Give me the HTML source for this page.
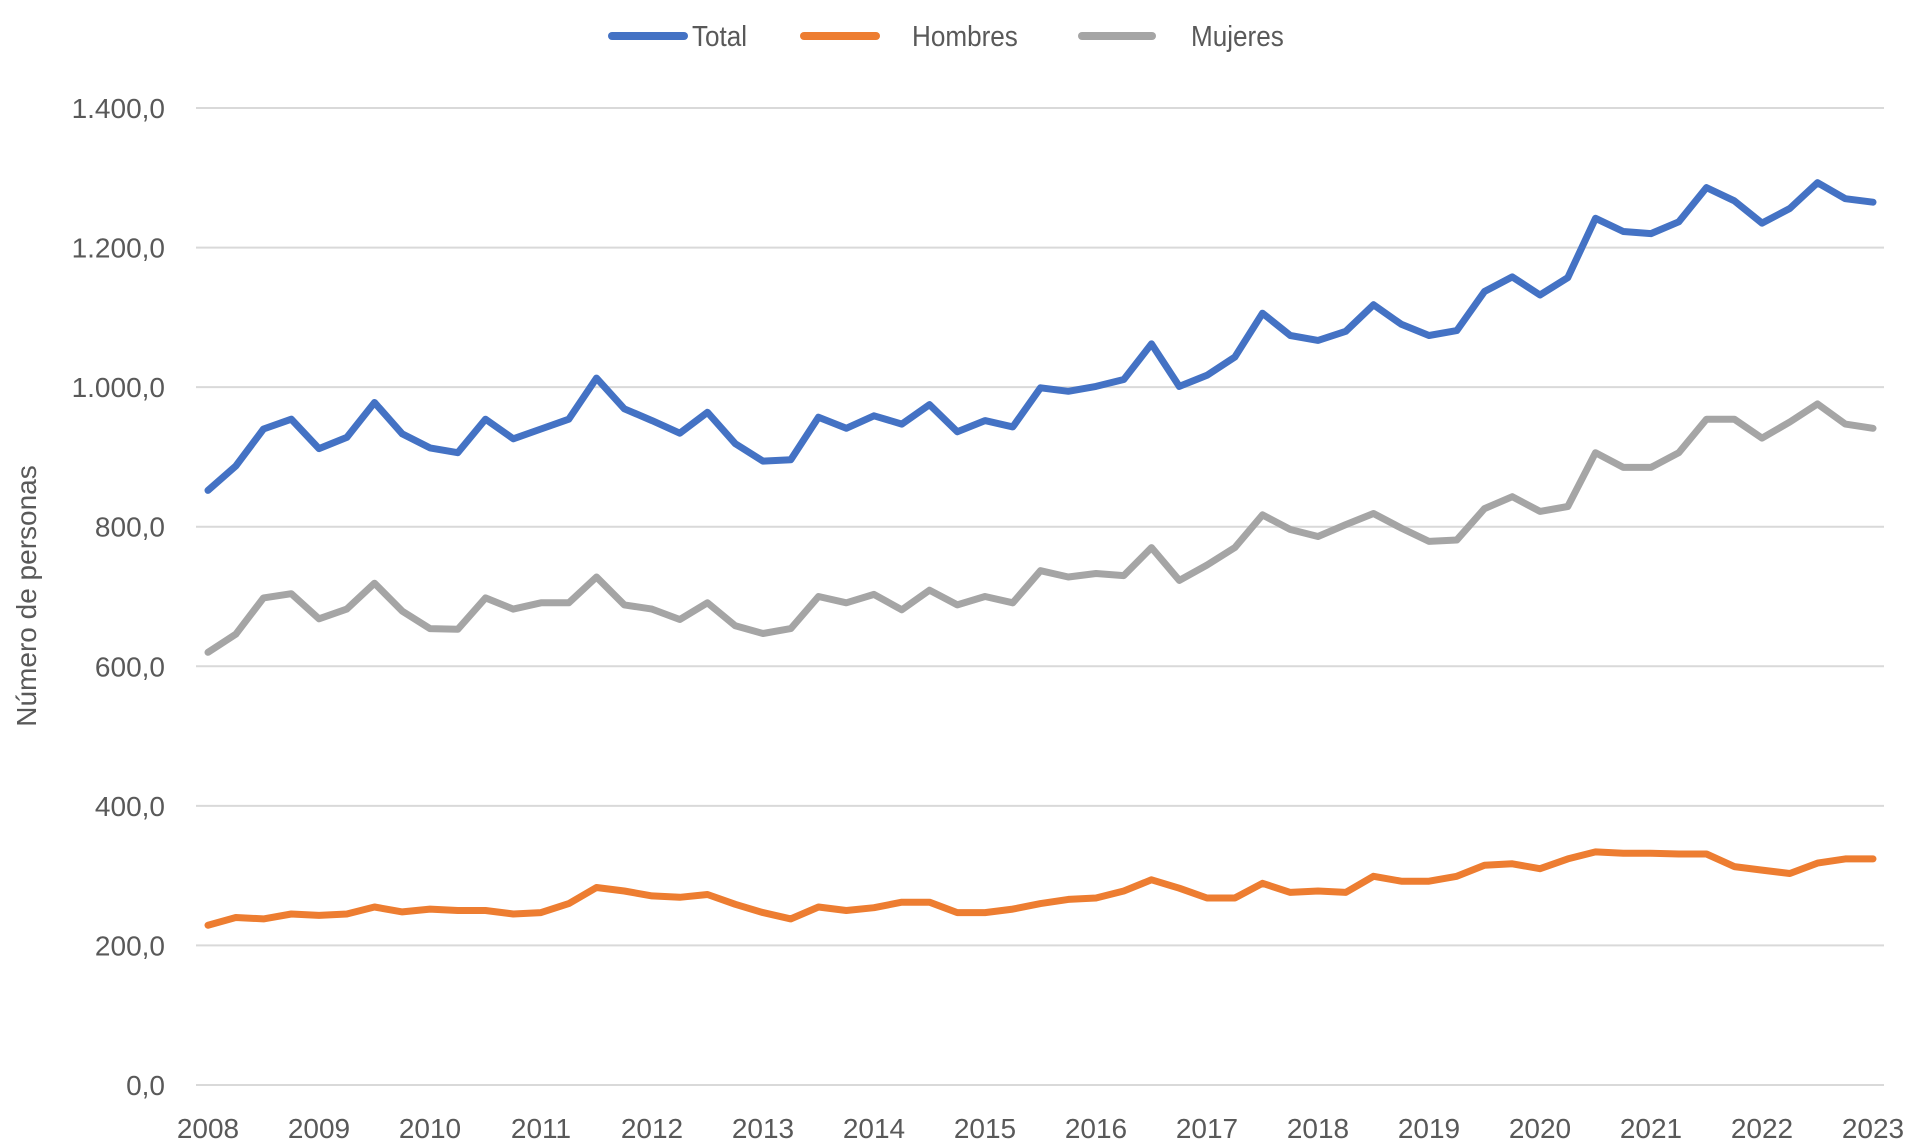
<!DOCTYPE html>
<html><head><meta charset="utf-8">
<style>
html,body{margin:0;padding:0;background:#fff;}
svg{display:block;font-family:"Liberation Sans",sans-serif;}
</style></head>
<body>
<svg id="chart" width="1917" height="1147" viewBox="0 0 1917 1147">
  <g id="grid"></g>
  <g id="yticks"></g>
  <g id="xticks"></g>
  <text transform="translate(36,596) rotate(-90)" text-anchor="middle" font-size="28" fill="#595959">Número de personas</text>
  <g id="series"></g>
  <g>
    <g>
      <line x1="612" y1="36" x2="684" y2="36" stroke="#4472C4" stroke-width="8" stroke-linecap="round"/>
      <text x="692" y="46" font-size="29" fill="#595959" transform="translate(692,0) scale(0.9,1) translate(-692,0)">Total</text>
    </g>
    <g>
      <line x1="804" y1="36" x2="876" y2="36" stroke="#ED7D31" stroke-width="8" stroke-linecap="round"/>
      <text x="912" y="46" font-size="29" fill="#595959" transform="translate(912,0) scale(0.9,1) translate(-912,0)">Hombres</text>
    </g>
    <g>
      <line x1="1082" y1="36" x2="1152" y2="36" stroke="#A5A5A5" stroke-width="8" stroke-linecap="round"/>
      <text x="1191" y="46" font-size="29" fill="#595959" transform="translate(1191,0) scale(0.9,1) translate(-1191,0)">Mujeres</text>
    </g>
  </g>
</svg>
<script>
const yTickValues = [0,200,400,600,800,1000,1200,1400];
const yTickLabels = ["0,0","200,0","400,0","600,0","800,0","1.000,0","1.200,0","1.400,0"];
const xYears = ["2008","2009","2010","2011","2012","2013","2014","2015","2016","2017","2018","2019","2020","2021","2022","2023"];
const total = [852,887,940,954,912,928,978,933,913,906,954,926,940,954,1013,969,952,934,964,919,894,896,957,941,959,947,975,936,952,943,999,994,1001,1011,1062,1001,1017,1043,1106,1074,1067,1080,1118,1090,1074,1081,1137,1158,1132,1157,1242,1223,1220,1237,1286,1267,1235,1256,1293,1270,1265];
const hombres = [229,240,238,245,243,245,255,248,252,250,250,245,247,260,283,278,271,269,273,259,247,238,255,250,254,262,262,247,247,252,260,266,268,278,294,282,268,268,289,276,278,276,299,292,292,299,315,317,310,324,334,332,332,331,331,313,308,303,318,324,324];
const mujeres = [620,646,698,704,668,682,719,679,654,653,698,682,691,691,728,688,682,667,691,658,647,654,700,691,703,681,709,688,700,691,737,728,733,730,770,723,745,770,817,796,786,803,819,798,779,781,826,843,822,829,906,885,885,906,954,954,927,950,976,947,941];

const NS="http://www.w3.org/2000/svg";
const plotL=196, plotR=1884, y0=1085, y1400=108;
const xFirst=208, xLast=1873;
function yScale(v){return y0-(v/1400)*(y0-y1400);}
function xScale(i){return xFirst+i*(xLast-xFirst)/60;}
function mk(tag,attrs,parent){const e=document.createElementNS(NS,tag);for(const k in attrs)e.setAttribute(k,attrs[k]);parent.appendChild(e);return e;}

const grid=document.getElementById('grid'), yt=document.getElementById('yticks'), xt=document.getElementById('xticks'), ser=document.getElementById('series');
yTickValues.forEach((v,i)=>{
  const l=mk('line',{x1:plotL,x2:plotR,y1:yScale(v),y2:yScale(v),stroke:'#D9D9D9','stroke-width':2},grid);
  
  
  const t=mk('text',{x:165,y:yScale(v)+10,'text-anchor':'end','font-size':28,fill:'#595959'},yt);
  t.textContent=yTickLabels[i];
  
  
});
xYears.forEach((y,i)=>{
  const t=mk('text',{x:xScale(i*4),y:1138,'text-anchor':'middle','font-size':28,fill:'#595959'},xt);
  t.textContent=y;
  
  
});
function drawLine(arr,color,name){
  const d=arr.map((v,i)=>(i?'L':'M')+xScale(i).toFixed(1)+','+yScale(v).toFixed(1)).join(' ');
  const p=mk('path',{d:d,fill:'none',stroke:color,'stroke-width':7,'stroke-linejoin':'round','stroke-linecap':'round'},ser);
  
  
}
drawLine(hombres,'#ED7D31','line-hombres');
drawLine(mujeres,'#A5A5A5','line-mujeres');
drawLine(total,'#4472C4','line-total');
</script>
</body></html>
